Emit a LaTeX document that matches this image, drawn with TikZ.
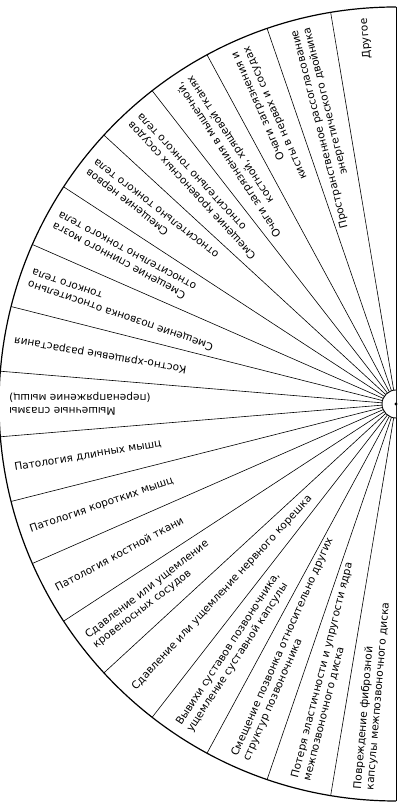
\documentclass[tikz,border=0pt]{standalone}
\usepackage{fontspec}
\setmainfont{DejaVu Sans}
\newcommand\rlab{387}
\newcommand\upseg[3]{\node[lbl,anchor=east,rotate=#2,align=right] (#1) at ([shift={(#2:\rlab)}]C) {#3};}
\newcommand\dnseg[3]{\node[lbl,anchor=west,rotate=#2-180,align=left] (#1) at ([shift={(#2:\rlab)}]C) {#3};}
\begin{document}
\begin{tikzpicture}[x=1pt,y=1pt,
  lbl/.style={font=\fontsize{10.6}{12.6}\selectfont, inner sep=0pt},
  ray/.style={line width=0.6pt},
  rim/.style={line width=1.2pt}]
\useasboundingbox (0,0) rectangle (406,810);
\clip (0,0) rectangle (406,810);
\coordinate (C) at (396,406);
% outer arc and right edge
\draw[rim] ([shift={(90:397)}]C) arc[start angle=90,end angle=270,radius=397];
\draw[line width=0.9pt] ([shift={(90:397)}]C) -- ([shift={(270:397)}]C);
% rays
\foreach \k in {1,...,18}{
  \pgfmathsetmacro\a{90+\k*180/19}
  \draw[ray] ([shift={(\a:14)}]C) -- ([shift={(\a:397)}]C);
}
% hub
\draw[line width=0.9pt,fill=white] ([shift={(90:14)}]C) arc[start angle=90,end angle=270,radius=14];
\fill (C) circle (1.6);
% labels
\upseg{s1}{94.737}{Другое}
\upseg{s2}{104.211}{Пространственное рассогласование\\энергетического двойника}
\upseg{s3}{113.684}{Очаги загрязнения и\\кисты в нервах и сосудах}
\upseg{s4}{123.158}{Очаги загрязнения в мышечной,\\костной, хрящевой тканях}
\upseg{s5}{132.632}{Смещение кровеносных сосудов\\относительно тонкого тела}
\upseg{s6}{142.105}{Смещение нервов\\относительно тонкого тела}
\upseg{s7}{151.579}{Смещение спинного мозга\\относительно тонкого тела}
\upseg{s8}{161.053}{Смещение позвонка относительно\\тонкого тела}
\upseg{s9}{170.526}{Костно-хрящевые разрастания}
\upseg{s10}{180}{Мышечные спазмы\\(перенапряжение мышц)}
\dnseg{s11}{189.474}{Патология длинных мышц}
\dnseg{s12}{198.947}{Патология коротких мышц}
\dnseg{s13}{208.421}{Патология костной ткани}
\dnseg{s14}{217.895}{Сдавление или ущемление\\кровеносных сосудов}
\dnseg{s15}{227.368}{Сдавление или ущемление нервного корешка}
\dnseg{s16}{236.842}{Вывихи суставов позвоночника,\\ущемление суставной капсулы}
\dnseg{s17}{246.316}{Смещение позвонка относительно других\\структур позвоночника}
\dnseg{s18}{255.789}{Потеря эластичности и упругости ядра\\межпозвоночного диска}
\dnseg{s19}{265.263}{Повреждение фиброзной\\капсулы межпозвоночного диска}
\end{tikzpicture}
\end{document}
